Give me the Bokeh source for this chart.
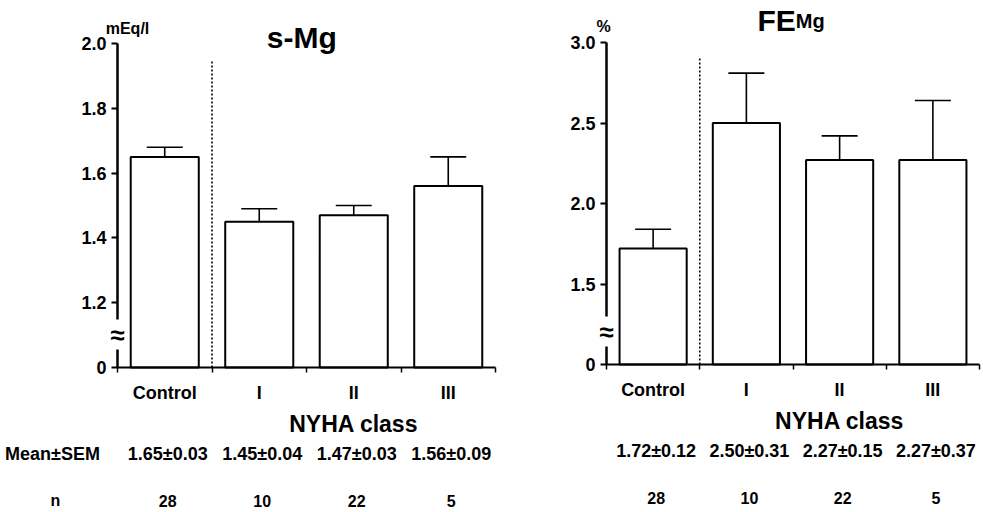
from bokeh.plotting import figure
from bokeh.layouts import row
from bokeh.models import (FixedTicker, Label, ColumnDataSource, Whisker, TeeHead, Range1d,
                          LinearAxis, Grid)
from bokeh.core.properties import value
from bokeh.embed import file_html
from bokeh.resources import INLINE

# ---------------- data ----------------
categories = ["Control", "I", "II", "III"]
smg_mean = [1.65, 1.45, 1.47, 1.56]
smg_sem = [0.03, 0.04, 0.03, 0.09]
fe_mean = [1.72, 2.50, 2.27, 2.27]
fe_sem = [0.12, 0.31, 0.15, 0.37]
n_counts = [28, 10, 22, 5]
smg_ticks = [0, 1.2, 1.4, 1.6, 1.8, 2.0]
fe_ticks = [0, 1.5, 2.0, 2.5, 3.0]

FONT = "Liberation Sans"
H = 512


def tick_label(t):
    return "0" if t == 0 else f"{t:.1f}"


def make_panel(means, sems, ticks, width, ax_x, ax_right, ax_top, ax_bottom,
               unit_text, unit_dx, unit_dy, title_parts, show_row_titles):
    """ax_x/ax_right: pixel x of y-axis and end of x-axis; ax_top/ax_bottom: pixel y
    of top tick and of the baseline (panel-local pixels)."""
    floor = 1.0  # display position of the broken-axis zero
    top = ticks[-1]
    ncat = len(categories)
    ppx = (ax_right - ax_x) / ncat
    ppu = (ax_bottom - ax_top) / (top - floor)
    xr = Range1d(-ax_x / ppx, ncat + (width - ax_right) / ppx)
    yr = Range1d(floor - (H - ax_bottom) / ppu, top + ax_top / ppu)

    p = figure(width=width, height=H, output_backend="svg", toolbar_location=None,
               x_range=xr, y_range=yr, x_axis_location=None, y_axis_location=None,
               min_border=0, title=None)
    p.center = [c for c in p.center if not isinstance(c, Grid)]
    p.outline_line_color = None
    p.background_fill_color = "white"
    p.border_fill_color = "white"

    disp = [floor if t == 0 else t for t in ticks]
    xs = [i + 0.5 for i in range(ncat)]
    src = ColumnDataSource(dict(x=xs, top=means, upper=[m + s for m, s in zip(means, sems)]))

    # separator dotted line between Control and NYHA groups
    p.segment(x0=[1], y0=[floor], x1=[1], y1=[floor + 0.95 * (top - floor)],
              line_color="black", line_width=1.6, line_dash="2 2")

    p.vbar(x="x", top="top", bottom=floor, width=0.72, source=src,
           fill_color="white", line_color="black", line_width=2)
    w = Whisker(source=src, base="x", upper="upper", lower="top", dimension="height",
                line_color="black", line_width=1.6,
                upper_head=TeeHead(size=36, line_width=1.6, line_color="black"),
                lower_head=None)
    p.add_layout(w)

    # x axis at the baseline
    xa = LinearAxis(fixed_location=floor, bounds=(0, ncat))
    xa.ticker = FixedTicker(ticks=xs, minor_ticks=list(range(ncat + 1)))
    xa.major_label_overrides = {x: c for x, c in zip(xs, categories)}
    xa.major_tick_out = 0
    xa.major_tick_in = 0
    xa.minor_tick_out = 5
    xa.minor_tick_in = 0
    xa.minor_tick_line_color = "black"
    xa.minor_tick_line_width = 1.5
    xa.axis_line_width = 2.2
    xa.axis_line_color = "black"
    xa.major_label_text_font = FONT
    xa.major_label_text_font_style = "bold"
    xa.major_label_text_font_size = "18px"
    xa.major_label_text_color = "black"
    xa.major_label_standoff = 10
    p.add_layout(xa, "below")

    # y axis (broken) at x = 0
    ya = LinearAxis(fixed_location=0, bounds=(floor, top))
    ya.ticker = FixedTicker(ticks=disp, minor_ticks=[])
    ya.major_label_overrides = {d: tick_label(t) for d, t in zip(disp, ticks)}
    ya.major_tick_out = 6
    ya.major_tick_in = 0
    ya.major_tick_line_width = 2
    ya.major_tick_line_color = "black"
    ya.axis_line_width = 2.5
    ya.axis_line_color = "black"
    ya.major_label_text_font = FONT
    ya.major_label_text_font_style = "bold"
    ya.major_label_text_font_size = "18px"
    ya.major_label_text_color = "black"
    ya.major_label_standoff = 5
    p.add_layout(ya, "left")

    def dy(px):
        return px / ppu

    def dx(px):
        return px / ppx

    def lab(x, y, text, size, align="center", baseline="middle", **kw):
        p.add_layout(Label(x=x, y=y, text=text, text_font=FONT, text_font_style="bold",
                           text_font_size=size, text_align=align, text_baseline=baseline,
                           text_color="black", **kw))

    # axis break symbol
    lab(0, floor + dy(33), "\u2248", "26px", background_fill_color="white")

    # unit label
    lab(dx(unit_dx), top + dy(unit_dy), unit_text, "16px")

    # title
    for (tx, txt, sz, al, yoff) in title_parts:
        lab(tx, top + dy(yoff), txt, sz, align=al, baseline="alphabetic")

    # group label
    lab(2.5, floor - dy(56), "NYHA class", "23px")

    # Mean +/- SEM row and n row
    rows = ColumnDataSource(dict(
        x=[x + dx(3) for x in xs],
        ms=[f"{m:.2f}\u00b1{s:.2f}" for m, s in zip(means, sems)],
        n=[str(n) for n in n_counts]))
    for col, off, sz in (("ms", 86, "18px"), ("n", 133, "16px")):
        p.text(x="x", y=floor - dy(off), text=col, source=rows, text_font=value(FONT),
               text_font_style="bold", text_font_size=sz, text_align="center",
               text_baseline="middle", text_color="black")
    if show_row_titles:
        lab(dx(-65), floor - dy(86), "Mean\u00b1SEM", "18px")
        lab(dx(-62), floor - dy(133), "n", "16px")
    return p


left = make_panel(smg_mean, smg_sem, smg_ticks, 500, 117, 495, 43, 367, "mEq/l", 10, 15,
                  [(1.95, "s-Mg", "30px", "center", 6)], True)
right = make_panel(fe_mean, fe_sem, fe_ticks, 483, 106, 479, 42, 364, "%", -3, 16,
                   [(2.03, "FE", "30px", "right", 22), (2.03, "Mg", "20px", "left", 22)],
                   False)

layout = row(left, right)
open("out.html", "w").write(file_html(layout, INLINE))
